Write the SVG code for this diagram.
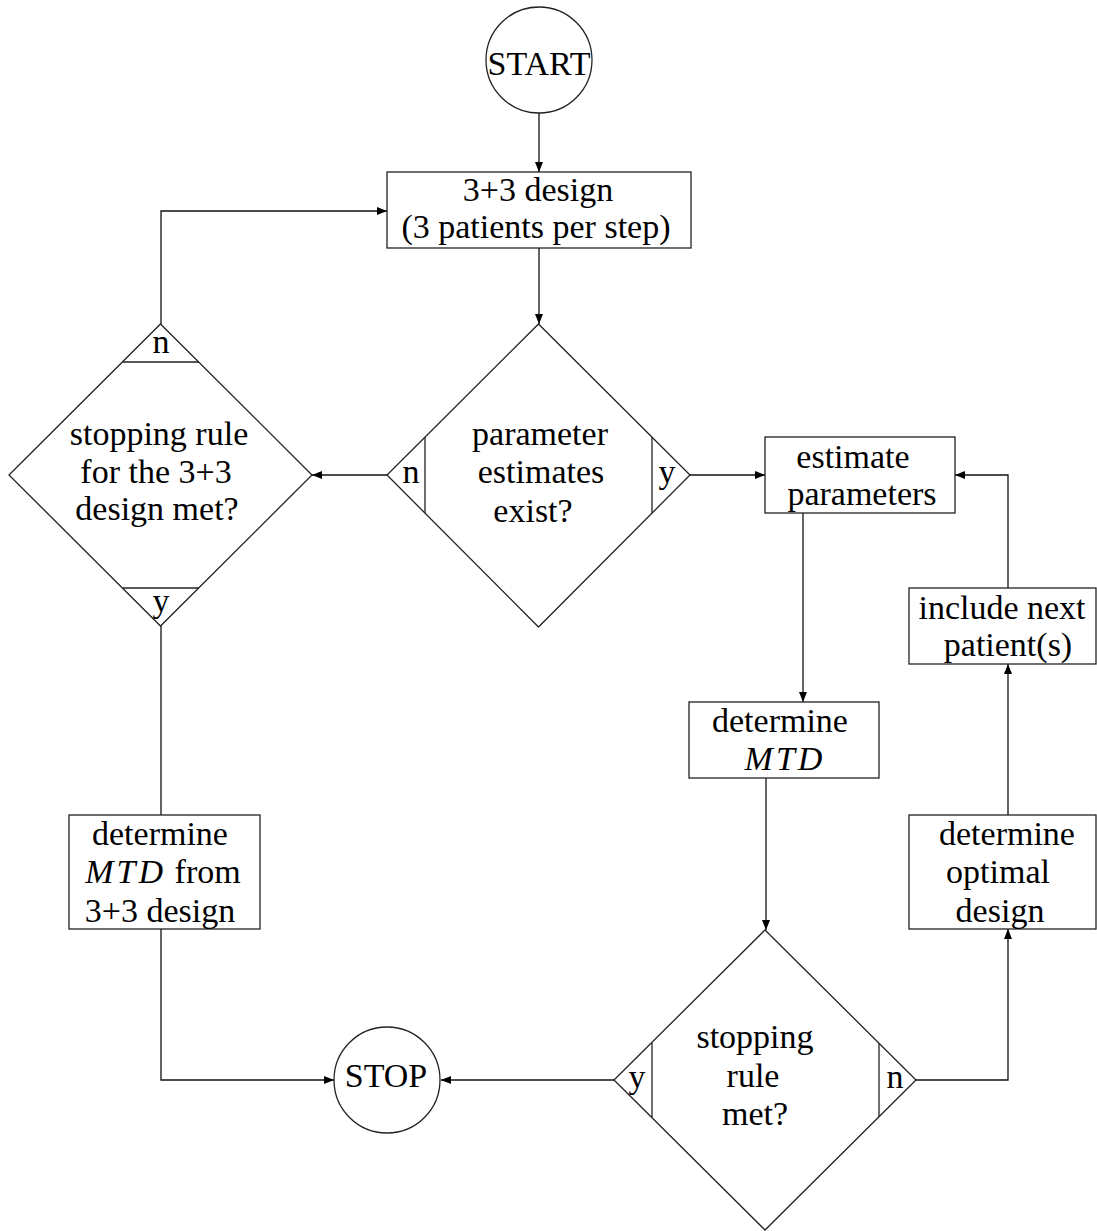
<svg xmlns="http://www.w3.org/2000/svg" width="1097" height="1231" viewBox="0 0 1097 1231">
<style>
text{font-family:"Liberation Serif","DejaVu Serif",serif;font-size:34px;fill:#000;text-anchor:middle}
.it{font-style:italic;letter-spacing:3px}
.shape{fill:#fff;stroke:#222;stroke-width:1.3}
.div{fill:none;stroke:#222;stroke-width:1.3}
.conn{fill:none;stroke:#111;stroke-width:1.3}
</style>
<defs>
<marker id="ah" viewBox="0 0 10 8" refX="10" refY="4" markerWidth="11" markerHeight="8" markerUnits="userSpaceOnUse" orient="auto">
<path d="M0,0 L10,4 L0,8 Z" fill="#000"/>
</marker>
</defs>
<rect width="1097" height="1231" fill="#fff"/>
<g id="connectors">
<path class="conn" d="M539,113 V172" marker-end="url(#ah)"/>
<path class="conn" d="M539,248 V324" marker-end="url(#ah)"/>
<path class="conn" d="M387,475 H312" marker-end="url(#ah)"/>
<path class="conn" d="M161,324 V211 H387" marker-end="url(#ah)"/>
<path class="conn" d="M161,626 V815"/>
<path class="conn" d="M161,929 V1080 H334" marker-end="url(#ah)"/>
<path class="conn" d="M690,475 H765" marker-end="url(#ah)"/>
<path class="conn" d="M803,513 V702" marker-end="url(#ah)"/>
<path class="conn" d="M766,778 V930" marker-end="url(#ah)"/>
<path class="conn" d="M614,1080 H441" marker-end="url(#ah)"/>
<path class="conn" d="M916,1080 H1008 V929" marker-end="url(#ah)"/>
<path class="conn" d="M1008,815 V664" marker-end="url(#ah)"/>
<path class="conn" d="M1008,588 V475 H955" marker-end="url(#ah)"/>
</g>
<g id="start">
<circle class="shape" cx="539" cy="60" r="53"/>
<text x="539" y="75">START</text>
</g>
<g id="design33">
<rect class="shape" x="387" y="172" width="304" height="76"/>
<text x="538" y="201">3+3 design</text>
<text x="536" y="238">(3 patients per step)</text>
</g>
<g id="paramExist">
<polygon class="shape" points="538.5,324 690,475 538.5,627 387,475"/>
<line class="div" x1="425" y1="437" x2="425" y2="513"/>
<line class="div" x1="652" y1="437" x2="652" y2="513"/>
<text x="411" y="483">n</text>
<text x="667" y="483">y</text>
<text x="540" y="445">parameter</text>
<text x="541" y="483">estimates</text>
<text x="533" y="522">exist?</text>
</g>
<g id="stop33">
<polygon class="shape" points="160.5,324 312,475 160.5,626 9,475"/>
<line class="div" x1="123" y1="362" x2="199" y2="362"/>
<line class="div" x1="123" y1="588" x2="199" y2="588"/>
<text x="161" y="353">n</text>
<text x="161" y="612">y</text>
<text x="159" y="445">stopping rule</text>
<text x="156" y="483">for the 3+3</text>
<text x="157" y="520">design met?</text>
</g>
<g id="mtd33">
<rect class="shape" x="69" y="815" width="191" height="114"/>
<text x="160" y="845">determine</text>
<text x="163" y="883"><tspan class="it">MTD</tspan> from</text>
<text x="160" y="922">3+3 design</text>
</g>
<g id="stop">
<circle class="shape" cx="387" cy="1080" r="53"/>
<text x="386" y="1087">STOP</text>
</g>
<g id="estimate">
<rect class="shape" x="765" y="437" width="190" height="76"/>
<text x="853" y="468">estimate</text>
<text x="862" y="505">parameters</text>
</g>
<g id="mtd">
<rect class="shape" x="689" y="702" width="190" height="76"/>
<text x="780" y="732">determine</text>
<text x="785" y="770" class="it">MTD</text>
</g>
<g id="stopRule">
<polygon class="shape" points="765,930 916,1080 765,1230 614,1080"/>
<line class="div" x1="652" y1="1043" x2="652" y2="1117"/>
<line class="div" x1="879" y1="1043" x2="879" y2="1117"/>
<text x="637" y="1088">y</text>
<text x="895" y="1088">n</text>
<text x="755" y="1048">stopping</text>
<text x="753" y="1087">rule</text>
<text x="755" y="1125">met?</text>
</g>
<g id="optimal">
<rect class="shape" x="909" y="815" width="187" height="114"/>
<text x="1007" y="845">determine</text>
<text x="998" y="883">optimal</text>
<text x="1000" y="922">design</text>
</g>
<g id="include">
<rect class="shape" x="909" y="588" width="187" height="76"/>
<text x="1002" y="619">include next</text>
<text x="1008" y="656">patient(s)</text>
</g>
</svg>
